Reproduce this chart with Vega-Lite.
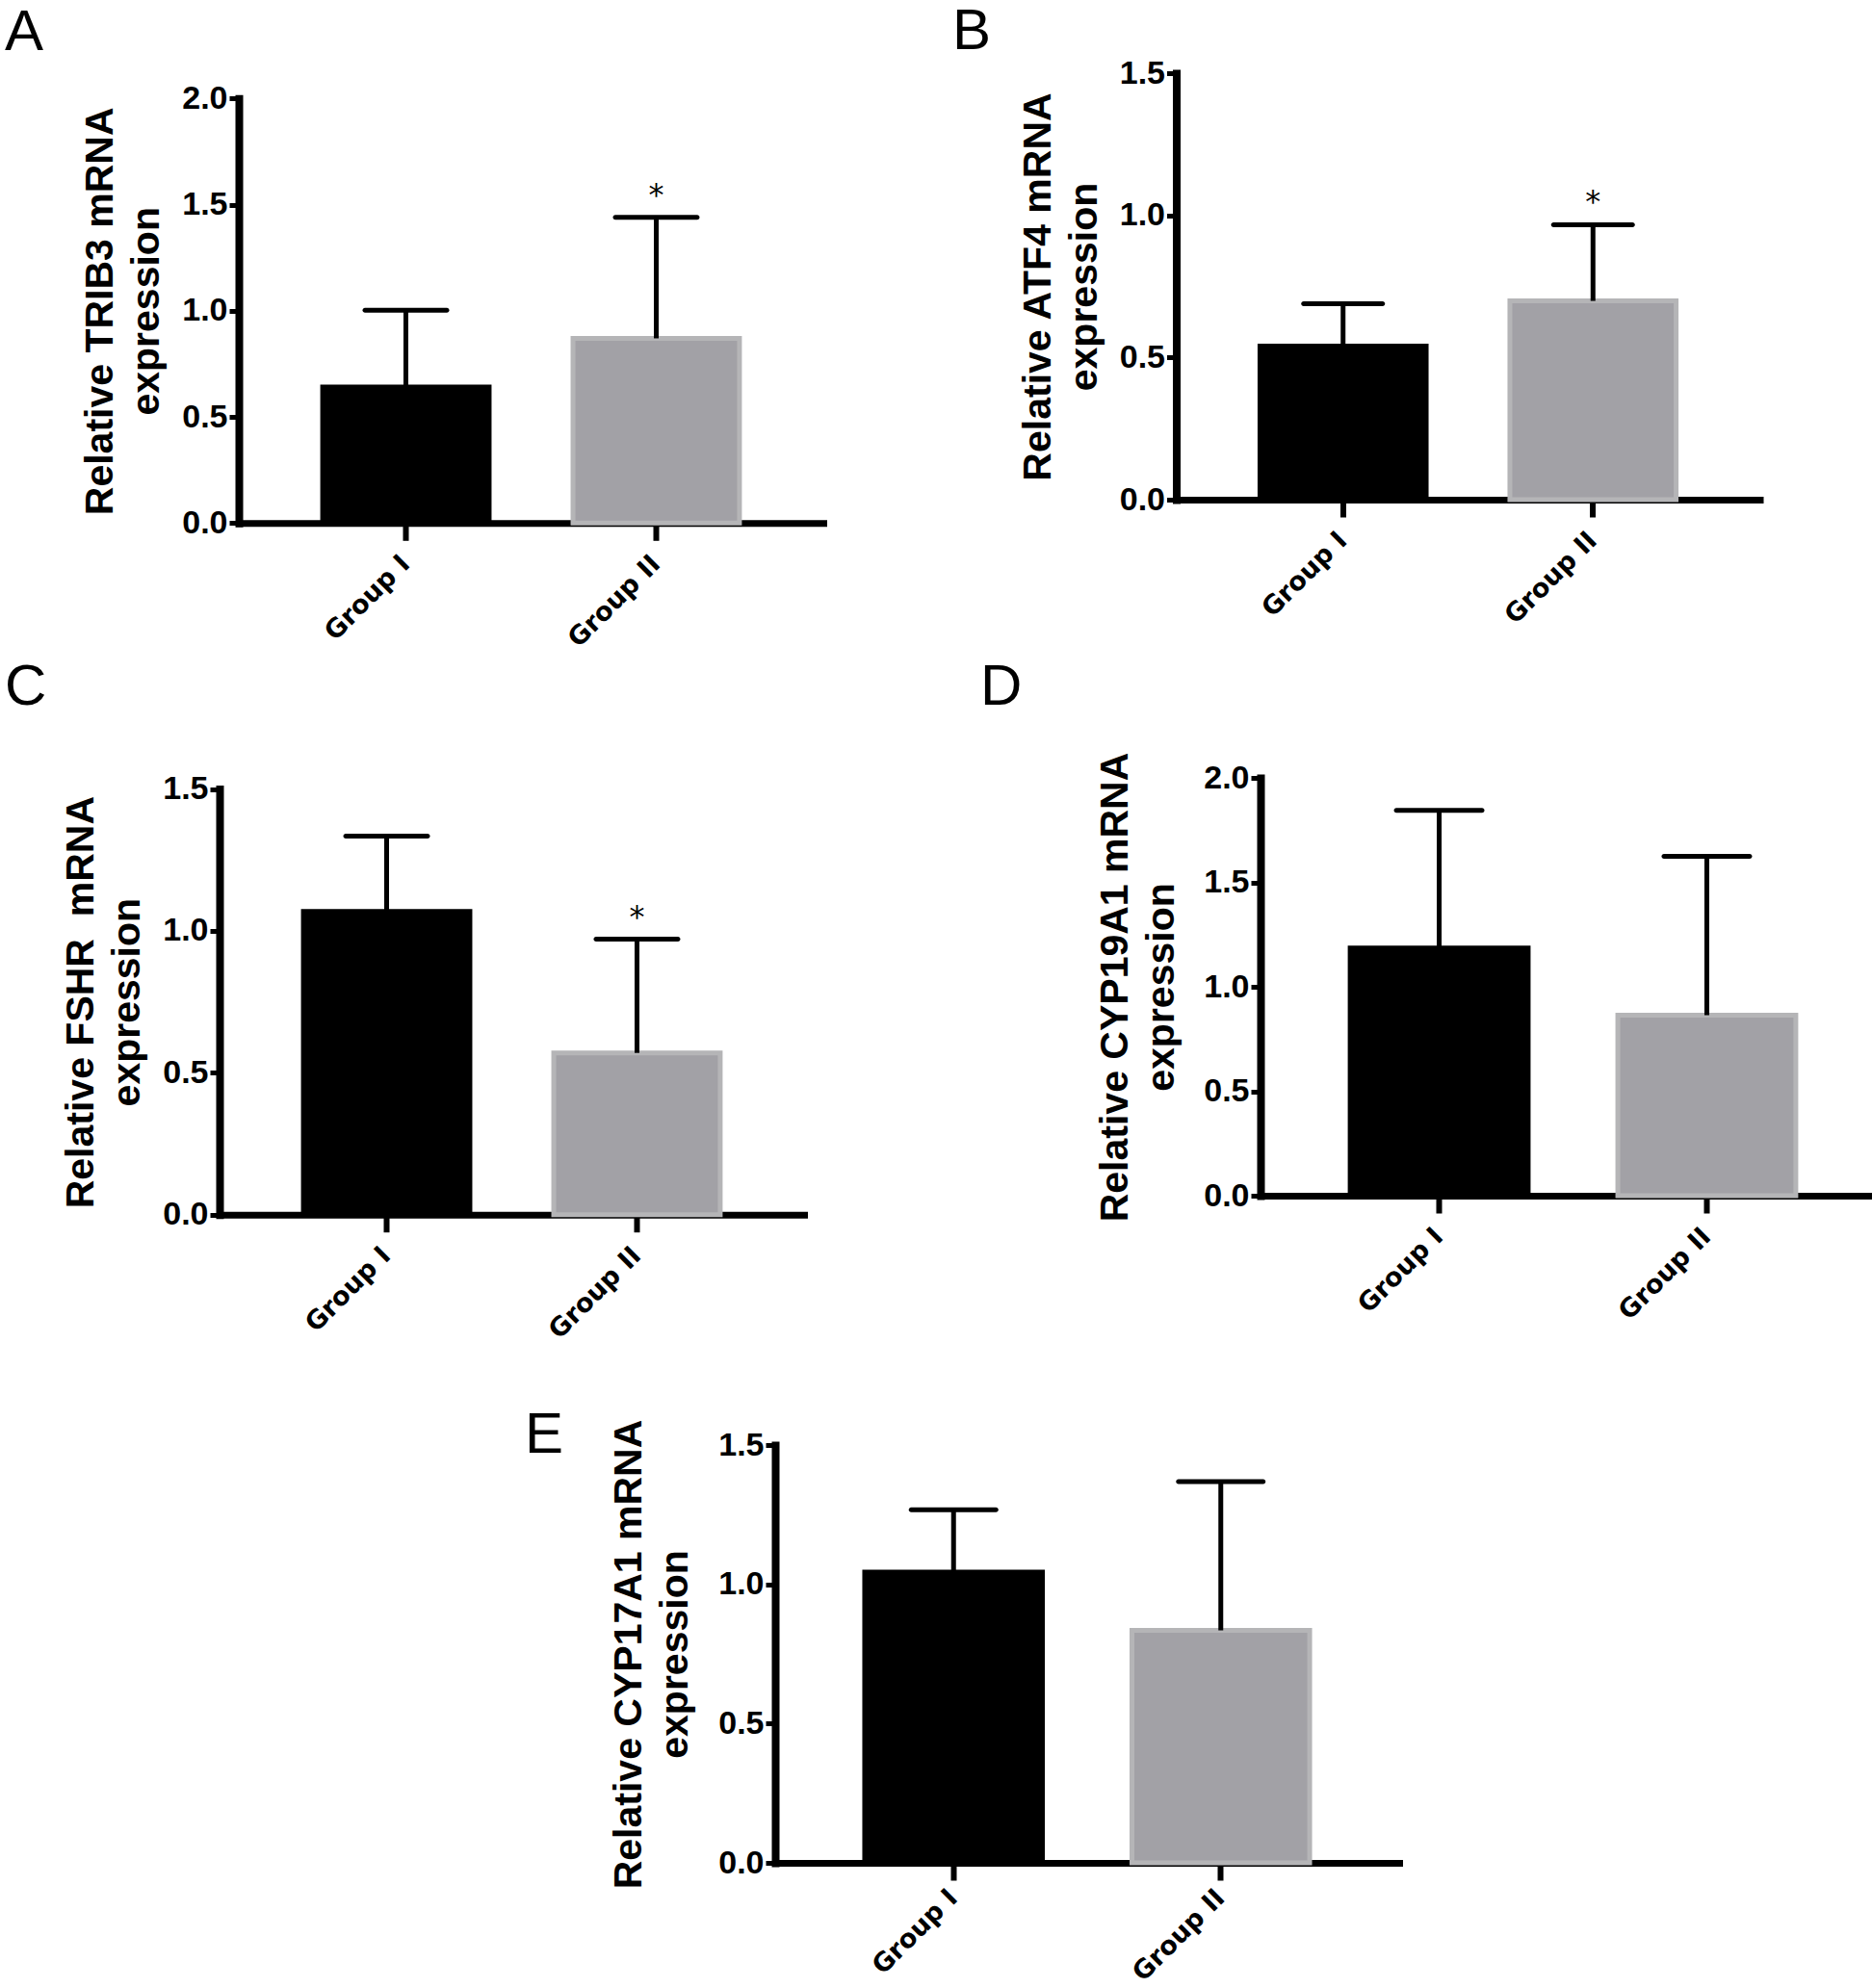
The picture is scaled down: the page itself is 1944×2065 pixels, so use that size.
{
  "$schema": "https://vega.github.io/schema/vega-lite/v6.json",
  "background": "white",
  "padding": {"left": 5, "top": 3, "right": 0, "bottom": 0},
  "datasets": {
    "bars": [
      {"panel": "A", "group": "Group I", "mean": 0.641, "upper": 1.002, "star": ""},
      {"panel": "A", "group": "Group II", "mean": 0.870, "upper": 1.440, "star": "*"},
      {"panel": "B", "group": "Group I", "mean": 0.540, "upper": 0.689, "star": ""},
      {"panel": "B", "group": "Group II", "mean": 0.699, "upper": 0.967, "star": "*"},
      {"panel": "C", "group": "Group I", "mean": 1.069, "upper": 1.334, "star": ""},
      {"panel": "C", "group": "Group II", "mean": 0.570, "upper": 0.971, "star": "*"},
      {"panel": "D", "group": "Group I", "mean": 1.185, "upper": 1.845, "star": ""},
      {"panel": "D", "group": "Group II", "mean": 0.864, "upper": 1.625, "star": ""},
      {"panel": "E", "group": "Group I", "mean": 1.044, "upper": 1.268, "star": ""},
      {"panel": "E", "group": "Group II", "mean": 0.835, "upper": 1.369, "star": ""}
    ]
  },
  "spacing": 6,
  "vconcat": [
    {
      "spacing": 133.5,
      "hconcat": [
        {
          "width": 607, "height": 467.3,
          "title": {"text": "A", "anchor": "start", "frame": "group", "dx": -243, "offset": -35.7, "baseline": "alphabetic"},
          "data": {"name": "bars"},
          "transform": [{"filter": "datum.panel === 'A'"}],
          "encoding": {"x": {"field": "group", "type": "nominal", "sort": ["Group I", "Group II"], "scale": {"paddingInner": 0.335, "paddingOuter": 0.335}, "axis": {"title": null}}},
          "layer": [
            {"mark": {"type": "bar", "strokeWidth": 5},
             "encoding": {
               "y": {"field": "mean", "type": "quantitative", "scale": {"domain": [0, 2], "nice": false, "range": [467.3, 26.3]}, "title": ["Relative TRIB3 mRNA", "expression"], "axis": {"values": [0, 0.5, 1, 1.5, 2], "format": ".1f", "titlePadding": 15}},
               "color": {"field": "group", "type": "nominal", "scale": {"domain": ["Group I", "Group II"], "range": ["#000000", "#a2a1a6"]}, "legend": null},
               "stroke": {"field": "group", "type": "nominal", "scale": {"domain": ["Group I", "Group II"], "range": ["#000000", "#b5b5b7"]}, "legend": null}}},
            {"mark": {"type": "rule", "strokeWidth": 5, "color": "#000000"},
             "encoding": {"y": {"field": "mean", "type": "quantitative", "title": ["Relative TRIB3 mRNA", "expression"]}, "y2": {"field": "upper"}}},
            {"mark": {"type": "tick", "orient": "horizontal", "size": 90, "thickness": 5, "cornerRadius": 2.5, "color": "#000000", "opacity": 1},
             "encoding": {"y": {"field": "upper", "type": "quantitative", "title": ["Relative TRIB3 mRNA", "expression"]}}},
            {"transform": [{"filter": "datum.star !== ''"}],
             "mark": {"type": "text", "font": "DejaVu Sans", "fontSize": 32, "baseline": "alphabetic", "dy": -13, "color": "#000000"},
             "encoding": {"y": {"field": "upper", "type": "quantitative", "title": ["Relative TRIB3 mRNA", "expression"]}, "text": {"field": "star"}}}
          ]
        },
        {
          "width": 606, "height": 443,
          "title": {"text": "B", "anchor": "start", "frame": "group", "dx": -232.5, "offset": -52, "baseline": "alphabetic"},
          "data": {"name": "bars"},
          "transform": [{"filter": "datum.panel === 'B'"}],
          "encoding": {"x": {"field": "group", "type": "nominal", "sort": ["Group I", "Group II"], "scale": {"paddingInner": 0.335, "paddingOuter": 0.335}, "axis": {"title": null}}},
          "layer": [
            {"mark": {"type": "bar", "strokeWidth": 5},
             "encoding": {
               "y": {"field": "mean", "type": "quantitative", "scale": {"domain": [0, 1.5], "nice": false}, "title": ["Relative ATF4 mRNA", "expression"], "axis": {"values": [0, 0.5, 1, 1.5], "format": ".1f", "titlePadding": 15}},
               "color": {"field": "group", "type": "nominal", "scale": {"domain": ["Group I", "Group II"], "range": ["#000000", "#a2a1a6"]}, "legend": null},
               "stroke": {"field": "group", "type": "nominal", "scale": {"domain": ["Group I", "Group II"], "range": ["#000000", "#b5b5b7"]}, "legend": null}}},
            {"mark": {"type": "rule", "strokeWidth": 5, "color": "#000000"},
             "encoding": {"y": {"field": "mean", "type": "quantitative", "title": ["Relative ATF4 mRNA", "expression"]}, "y2": {"field": "upper"}}},
            {"mark": {"type": "tick", "orient": "horizontal", "size": 87, "thickness": 5, "cornerRadius": 2.5, "color": "#000000", "opacity": 1},
             "encoding": {"y": {"field": "upper", "type": "quantitative", "title": ["Relative ATF4 mRNA", "expression"]}}},
            {"transform": [{"filter": "datum.star !== ''"}],
             "mark": {"type": "text", "font": "DejaVu Sans", "fontSize": 32, "baseline": "alphabetic", "dy": -13, "color": "#000000"},
             "encoding": {"y": {"field": "upper", "type": "quantitative", "title": ["Relative ATF4 mRNA", "expression"]}, "text": {"field": "star"}}}
          ]
        }
      ]
    },
    {
      "spacing": 163,
      "hconcat": [
        {
          "width": 587, "height": 453.7,
          "title": {"text": "C", "anchor": "start", "frame": "group", "dx": -243, "offset": 10.6, "baseline": "alphabetic"},
          "data": {"name": "bars"},
          "transform": [{"filter": "datum.panel === 'C'"}],
          "encoding": {"x": {"field": "group", "type": "nominal", "sort": ["Group I", "Group II"], "scale": {"paddingInner": 0.335, "paddingOuter": 0.335, "range": [-20, 587]}, "axis": {"title": null}}},
          "layer": [
            {"mark": {"type": "bar", "strokeWidth": 5},
             "encoding": {
               "y": {"field": "mean", "type": "quantitative", "scale": {"domain": [0, 1.5], "nice": false, "range": [453.7, 11.6]}, "title": ["Relative FSHR\u00a0 mRNA", "expression"], "axis": {"values": [0, 0.5, 1, 1.5], "format": ".1f", "titlePadding": 15, "offset": 20}},
               "color": {"field": "group", "type": "nominal", "scale": {"domain": ["Group I", "Group II"], "range": ["#000000", "#a2a1a6"]}, "legend": null},
               "stroke": {"field": "group", "type": "nominal", "scale": {"domain": ["Group I", "Group II"], "range": ["#000000", "#b5b5b7"]}, "legend": null}}},
            {"mark": {"type": "rule", "strokeWidth": 5, "color": "#000000"},
             "encoding": {"y": {"field": "mean", "type": "quantitative", "title": ["Relative FSHR\u00a0 mRNA", "expression"]}, "y2": {"field": "upper"}}},
            {"mark": {"type": "tick", "orient": "horizontal", "size": 90, "thickness": 5, "cornerRadius": 2.5, "color": "#000000", "opacity": 1},
             "encoding": {"y": {"field": "upper", "type": "quantitative", "title": ["Relative FSHR\u00a0 mRNA", "expression"]}}},
            {"transform": [{"filter": "datum.star !== ''"}],
             "mark": {"type": "text", "font": "DejaVu Sans", "fontSize": 32, "baseline": "alphabetic", "dy": -13, "color": "#000000"},
             "encoding": {"y": {"field": "upper", "type": "quantitative", "title": ["Relative FSHR\u00a0 mRNA", "expression"]}, "text": {"field": "star"}}}
          ]
        },
        {
          "width": 649, "height": 434,
          "title": {"text": "D", "anchor": "start", "frame": "group", "dx": -291, "offset": -10.8, "baseline": "alphabetic"},
          "data": {"name": "bars"},
          "transform": [{"filter": "datum.panel === 'D'"}],
          "encoding": {"x": {"field": "group", "type": "nominal", "sort": ["Group I", "Group II"], "scale": {"paddingInner": 0.335, "paddingOuter": 0.335}, "axis": {"title": null}}},
          "layer": [
            {"mark": {"type": "bar", "strokeWidth": 5},
             "encoding": {
               "y": {"field": "mean", "type": "quantitative", "scale": {"domain": [0, 2], "nice": false}, "title": ["Relative CYP19A1 mRNA", "expression"], "axis": {"values": [0, 0.5, 1, 1.5, 2], "format": ".1f", "titlePadding": 22}},
               "color": {"field": "group", "type": "nominal", "scale": {"domain": ["Group I", "Group II"], "range": ["#000000", "#a2a1a6"]}, "legend": null},
               "stroke": {"field": "group", "type": "nominal", "scale": {"domain": ["Group I", "Group II"], "range": ["#000000", "#b5b5b7"]}, "legend": null}}},
            {"mark": {"type": "rule", "strokeWidth": 5, "color": "#000000"},
             "encoding": {"y": {"field": "mean", "type": "quantitative", "title": ["Relative CYP19A1 mRNA", "expression"]}, "y2": {"field": "upper"}}},
            {"mark": {"type": "tick", "orient": "horizontal", "size": 94, "thickness": 5, "cornerRadius": 2.5, "color": "#000000", "opacity": 1},
             "encoding": {"y": {"field": "upper", "type": "quantitative", "title": ["Relative CYP19A1 mRNA", "expression"]}}}
          ]
        }
      ]
    },
    {
      "width": 1205, "height": 533,
      "title": {"text": "E", "anchor": "start", "frame": "group", "dx": 297, "offset": -167, "baseline": "alphabetic"},
      "data": {"name": "bars"},
      "transform": [{"filter": "datum.panel === 'E'"}],
      "encoding": {"x": {"field": "group", "type": "nominal", "sort": ["Group I", "Group II"], "scale": {"paddingInner": 0.335, "paddingOuter": 0.335, "range": [557, 1205]}, "axis": {"title": null, "labelPadding": 14}}},
      "layer": [
        {"mark": {"type": "bar", "strokeWidth": 5},
         "encoding": {
           "y": {"field": "mean", "type": "quantitative", "scale": {"domain": [0, 1.5], "nice": false, "range": [533, 99]}, "title": ["Relative CYP17A1 mRNA", "expression"], "axis": {"values": [0, 0.5, 1, 1.5], "format": ".1f", "titlePadding": 23, "offset": -557}},
           "color": {"field": "group", "type": "nominal", "scale": {"domain": ["Group I", "Group II"], "range": ["#000000", "#a2a1a6"]}, "legend": null},
           "stroke": {"field": "group", "type": "nominal", "scale": {"domain": ["Group I", "Group II"], "range": ["#000000", "#b5b5b7"]}, "legend": null}}},
        {"mark": {"type": "rule", "strokeWidth": 5, "color": "#000000"},
         "encoding": {"y": {"field": "mean", "type": "quantitative", "title": ["Relative CYP17A1 mRNA", "expression"]}, "y2": {"field": "upper"}}},
        {"mark": {"type": "tick", "orient": "horizontal", "size": 93, "thickness": 5, "cornerRadius": 2.5, "color": "#000000", "opacity": 1},
         "encoding": {"y": {"field": "upper", "type": "quantitative", "title": ["Relative CYP17A1 mRNA", "expression"]}}}
      ]
    }
  ],
  "config": {
    "view": {"stroke": null},
    "title": {"font": "Liberation Sans", "fontSize": 60, "fontWeight": "normal", "color": "#000000"},
    "axis": {"domainColor": "#000000", "tickColor": "#000000", "labelColor": "#000000", "titleColor": "#000000", "grid": false, "domainCap": "square", "zindex": 1},
    "axisY": {"domainWidth": 8, "tickWidth": 5, "tickSize": 10, "labelFont": "Liberation Sans", "labelFontWeight": "bold", "labelFontSize": 34, "labelPadding": 2, "labelFlush": false, "labelOverlap": false, "titleFont": "Liberation Sans", "titleFontWeight": "bold", "titleFontSize": 41, "titleLineHeight": 48},
    "axisX": {"domainWidth": 7, "tickWidth": 6, "tickSize": 18, "labelFont": "DejaVu Sans", "labelFontWeight": "bold", "labelFontSize": 27, "labelAngle": -45, "labelAlign": "right", "labelBaseline": "middle", "labelPadding": 20}
  }
}
